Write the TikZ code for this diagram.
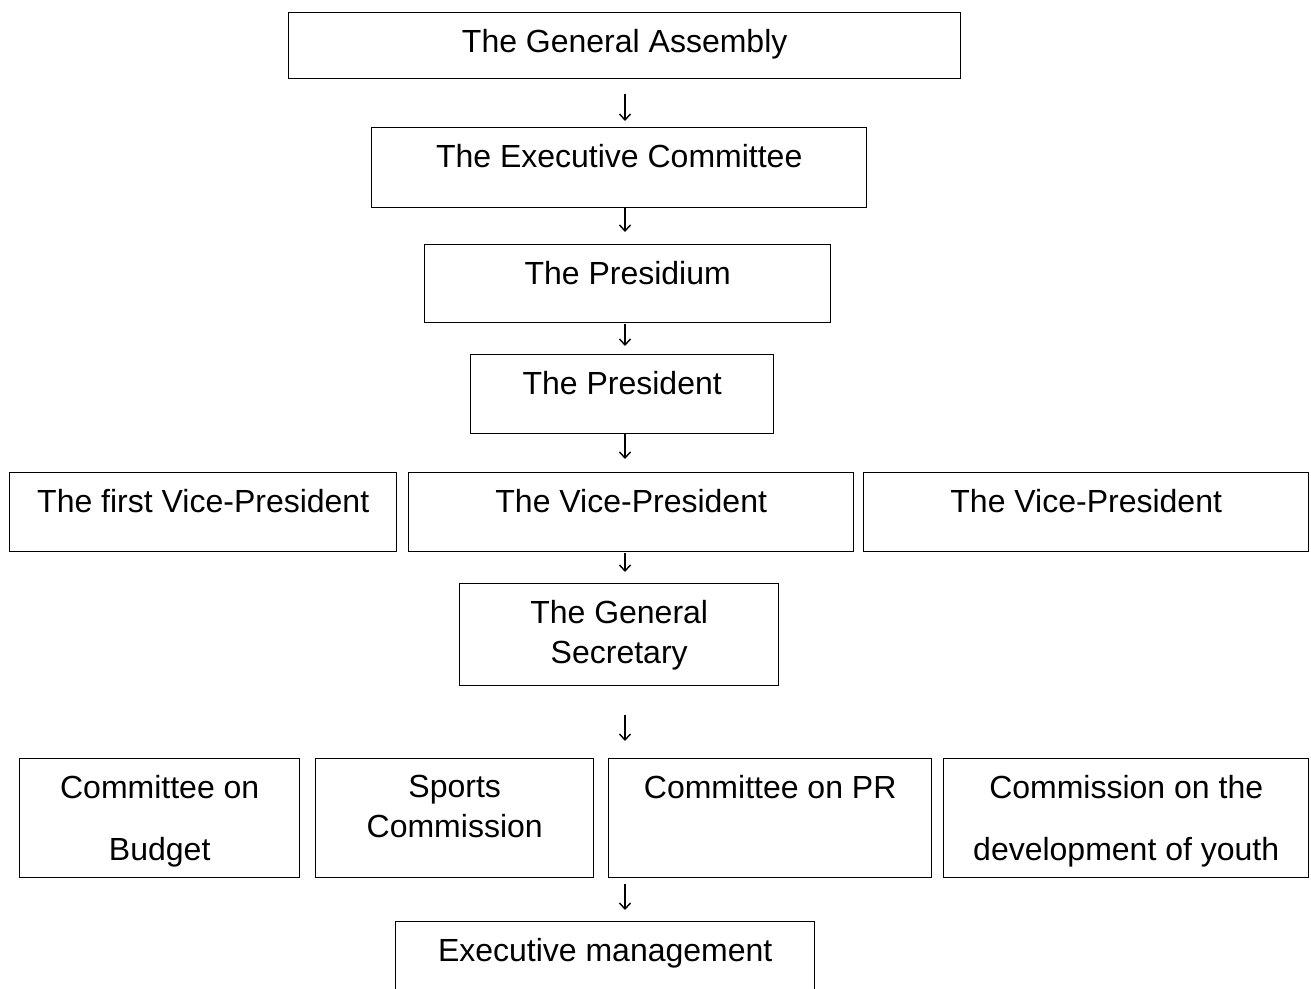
\documentclass[tikz,border=0pt]{standalone}
\usepackage{fontspec}
\setmainfont{Liberation Sans}
\usetikzlibrary{arrows.meta}

\tikzset{
	box/.style={draw, line width=.7pt, anchor=north west, inner sep=0pt},
	lbl/.style={anchor=north, inner sep=0pt, yshift=-8.3pt, align=center, font=\fontsize{16}{20}\selectfont},
	arr/.style={->, line width=.7pt},
}

\begin{document}
\begin{tikzpicture}[x=.5pt, y=-.5pt, >={Straight Barb[length=3pt,width=5.5pt]}]
	\useasboundingbox (0,0) rectangle (1311,989);
	\clip (0,0) rectangle (1311,989);
	\coordinate (axis) at (625,0);

	% the chain down to the president
	\node[box, minimum width=336pt, minimum height=33pt, label={[lbl]north:The General Assembly}] (ga) at (288,12) {};
	\node[box, minimum width=247.5pt, minimum height=40pt, label={[lbl]north:The Executive Committee}] (ec) at (371,127) {};
	\node[box, minimum width=203pt, minimum height=39pt, label={[lbl]north:The Presidium}] (presidium) at (424,244) {};
	\node[box, minimum width=151.5pt, minimum height=39.5pt, label={[lbl]north:The President}] (president) at (470,354) {};

	% vice-presidents
	\node[box, minimum width=193.5pt, minimum height=39.5pt, label={[lbl]north:The first Vice-President}] (vpfirst) at (9,472) {};
	\node[box, minimum width=222.5pt, minimum height=39.5pt, label={[lbl]north:The Vice-President}] (vpmid) at (408,472) {};
	\node[box, minimum width=222.5pt, minimum height=39.5pt, label={[lbl]north:The Vice-President}] (vpright) at (863,472) {};

	\node[box, minimum width=159.5pt, minimum height=51pt, label={[lbl]north:{The General\\Secretary}}] (secretary) at (459,583) {};

	% committees and commissions
	\node[box, minimum width=140pt, minimum height=59.5pt, label={[lbl]north:{Committee on\\[11pt]Budget}}] (budget) at (19,758) {};
	\node[box, minimum width=139pt, minimum height=59.5pt, label={[lbl]north:{Sports\\Commission}}] (sports) at (315,758) {};
	\node[box, minimum width=161.5pt, minimum height=59.5pt, label={[lbl]north:Committee on PR}] (pr) at (608,758) {};
	\node[box, minimum width=182.5pt, minimum height=59.5pt, label={[lbl]north:{Commission on the\\[11pt]development of youth}}] (youth) at (943,758) {};

	\node[box, minimum width=209.5pt, minimum height=50pt, label={[lbl]north:Executive management}] (mgmt) at (395,921) {};

	% arrows
	\draw[arr, shorten <=7.5pt, shorten >=3pt] (ga.south -| axis) -- (ec.north -| axis);
	\draw[arr, shorten >=6pt] (ec.south -| axis) -- (presidium.north -| axis);
	\draw[arr, shorten <=.5pt, shorten >=4pt] (presidium.south -| axis) -- (president.north -| axis);
	\draw[arr, shorten >=6.5pt] (president.south -| axis) -- (vpmid.north -| axis);
	\draw[arr, shorten <=.5pt, shorten >=5.5pt] (vpmid.south -| axis) -- (secretary.north -| axis);
	\draw[arr, shorten <=14.5pt, shorten >=8.5pt] (secretary.south -| axis) -- (pr.north -| axis);
	\draw[arr, shorten <=3pt, shorten >=5.5pt] (pr.south -| axis) -- (mgmt.north -| axis);
\end{tikzpicture}
\end{document}
